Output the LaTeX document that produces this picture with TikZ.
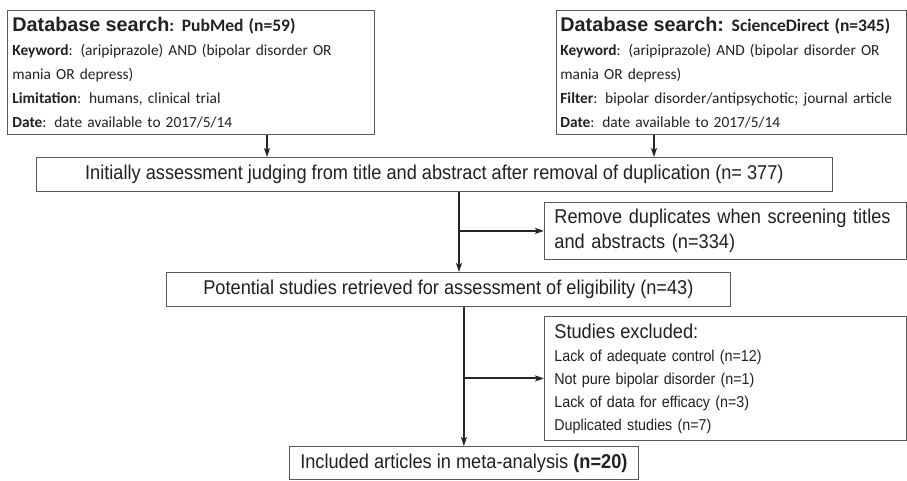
\documentclass[tikz,border=0pt]{standalone}
\usepackage{fontspec}
\usetikzlibrary{arrows.meta}
\setmainfont{Liberation Sans}
\newfontfamily\bodyfont[FakeStretch=0.91]{Liberation Sans}
\newfontfamily\calfont{Carlito}
\newfontfamily\headfont{Liberation Sans}
\definecolor{inkgray}{gray}{0.13}
\definecolor{boxgray}{gray}{0.35}

\begin{document}
\begin{tikzpicture}[style=thick,x=1pt,y=-1pt,>={Stealth[length=9pt,width=6pt,inset=2pt]}]
			\newcommand{\bsize}{\fontsize{20}{25}\selectfont}
			\newcommand{\ssize}{\fontsize{15.7}{23}\selectfont}
			\newcommand{\csize}{\fontsize{15.4}{24}\selectfont}
			\newcommand{\tsize}{\headfont\fontsize{19.8}{24}\selectfont\bfseries}
			\newcommand{\dsize}{\fontsize{17.5}{24}\selectfont\bfseries}
			\useasboundingbox (0,0) rectangle (907,480);
			\begin{scope}[shape=rectangle,text=inkgray] 
				\tikzstyle{every node}=[draw=boxgray,line width=0.8pt,anchor=north west,inner ysep=0pt]
				\node[inner xsep=5pt,text width=357pt,align=left,minimum height=124pt,font=\calfont\csize] (S_1) at (7,10) {{\tsize Database search}{\dsize: PubMed (n=59)}\\
					\textbf{Keyword}: (aripiprazole) AND (bipolar disorder OR\\
					mania OR depress)\\
					\textbf{Limitation}: humans, clinical trial\\
					\textbf{Date}: date available to 2017/5/14};
				\node[inner xsep=4pt,text width=342pt,align=left,minimum height=124pt,font=\calfont\csize] (S_2) at (556,10) {{\tsize Database search:} {\dsize ScienceDirect (n=345)}\\
					\textbf{Keyword}: (aripiprazole) AND (bipolar disorder OR\\
					mania OR depress)\\
					\textbf{Filter}: bipolar disorder/antipsychotic; journal article\\
					\textbf{Date}: date available to 2017/5/14};
				\node[minimum width=796pt,minimum height=34pt,font=\bodyfont\bsize] (N_1) at (36,157) {Initially assessment judging from title and abstract after removal of duplication (n= 377)};
				\node[inner xsep=10pt,text width=342pt,align=left,minimum height=57pt,font=\bodyfont\bsize] (E_1) at (544,202) {Remove duplicates when screening titles\\
					and abstracts (n=334)};
				\node[minimum width=564pt,minimum height=34pt,font=\bodyfont\bsize] (N_2) at (166,272) {Potential studies retrieved for assessment of eligibility (n=43)};
				\node[inner xsep=10pt,text width=342pt,align=left,minimum height=124pt,font=\bodyfont\ssize] (E_2) at (544,316) {{\bsize Studies excluded:}\\
					Lack of adequate control (n=12)\\
					Not pure bipolar disorder (n=1)\\
					Lack of data for efficacy (n=3)\\
					Duplicated studies (n=7)};
				\node[minimum width=349pt,minimum height=33pt,font=\bodyfont\bsize] (N_3) at (289,446) {Included articles in meta-analysis \textbf{(n=20)}};
			\end{scope} 
			\begin{scope}[line width=1.4pt,draw=black!85]
				\coordinate (T_1) at (267,0);
				\coordinate (T_2) at (654,0);
				\coordinate (T_3) at (459,0);
				\draw [->] (S_1.south -| T_1) -- (N_1.north -| T_1);
				\draw [->] (S_2.south -| T_2) -- (N_1.north -| T_2);
				\draw [->] (N_1.south -| T_3) -- (N_2.north -| T_3);
				\draw [->,line width=2pt] (E_1.west -| T_3) -- (E_1.west);
				\draw [->] (N_2.south -| N_3.north) -- (N_3.north);
				\draw [->,line width=2pt] (E_2.west -| N_3.north) -- (E_2.west);
			\end{scope} 
\end{tikzpicture}
\end{document}
